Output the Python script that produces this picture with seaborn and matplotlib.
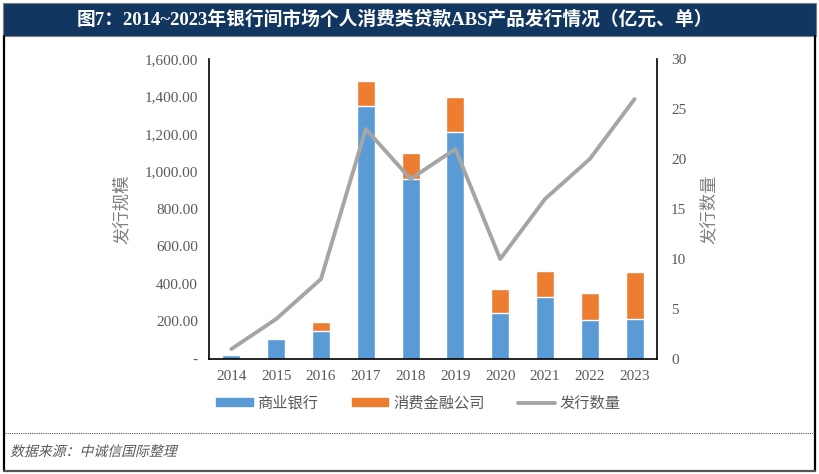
import numpy as np
import pandas as pd
import matplotlib
matplotlib.use('Agg')
import matplotlib.pyplot as plt
from matplotlib.patches import Rectangle, Patch, PathPatch
from matplotlib.lines import Line2D
from matplotlib.textpath import TextPath
from matplotlib.font_manager import FontProperties
from matplotlib.transforms import Affine2D
from matplotlib.ticker import FuncFormatter, MultipleLocator
import seaborn as sns

# data
years = ['2014', '2015', '2016', '2017', '2018', '2019', '2020', '2021', '2022', '2023']
bank_amount = [21, 107, 149, 1348, 958, 1212, 245, 331, 210, 213]
consumer_fin_amount = [0, 0, 47, 136, 139, 187, 127, 136, 140, 251]
issue_count = [1, 4, 8, 23, 18, 21, 10, 16, 20, 26]

title = '图7：2014~2023年银行间市场个人消费类贷款ABS产品发行情况（亿元、单）'
source = '数据来源：中诚信国际整理'

BLUE = '#5B9BD5'
ORANGE = '#ED7D31'
GRAY = '#A5A5A5'
TICK_C = '#595959'

sns.set_theme(style='white')
serif = ['Liberation Serif', 'Noto Sans CJK SC', 'DejaVu Sans']
cjk = ['Noto Sans CJK SC', 'DejaVu Sans']
plt.rcParams['font.family'] = serif

df = pd.DataFrame({
    'year': years,
    'bank': bank_amount,
    'total': np.array(bank_amount) + np.array(consumer_fin_amount),
    'pos': np.arange(len(years)),
    'count': issue_count,
})

fig = plt.figure(figsize=(8.2, 4.74), dpi=100)
ax = fig.add_axes([209 / 820, 1 - 359 / 474, 448 / 820, 300 / 474])

# stacked bars: total (orange) first, commercial bank part (blue) on top
sns.barplot(data=df, x='year', y='total', color=ORANGE, width=0.4, saturation=1, ax=ax)
sns.barplot(data=df, x='year', y='bank', color=BLUE, width=0.4, saturation=1, ax=ax)
ax.set_xlim(-0.5, len(years) - 0.5)
ax.set_ylim(0, 1600)
ax.yaxis.set_major_locator(MultipleLocator(200))
ax.yaxis.set_major_formatter(FuncFormatter(lambda v, p: '-' if v == 0 else f'{v:,.2f}'))
ax.set_xlabel('')
ax.set_ylabel('发行规模', family=cjk, fontsize=12.5, color='#7F7F7F', labelpad=10)
ax.tick_params(axis='both', length=0, labelsize=11, colors=TICK_C, pad=8)
for s in ['left', 'bottom']:
    ax.spines[s].set_color('black')
    ax.spines[s].set_linewidth(1.2)
ax.spines['top'].set_visible(False)
ax.spines['right'].set_visible(False)

ax2 = ax.twinx()
sns.lineplot(data=df, x='pos', y='count', color=GRAY, linewidth=2.8, ax=ax2)
ax2.set_ylim(0, 30)
ax2.set_xlim(-0.5, len(years) - 0.5)
ax2.yaxis.set_major_locator(MultipleLocator(5))
ax2.set_ylabel('发行数量', family=cjk, fontsize=12.5, color='#7F7F7F', labelpad=10)
ax2.tick_params(axis='y', length=0, labelsize=11, colors=TICK_C, pad=10)
ax2.spines['top'].set_visible(False)
ax2.spines['left'].set_visible(False)
ax2.spines['bottom'].set_visible(False)
ax2.spines['right'].set_color('black')
ax2.spines['right'].set_linewidth(1.2)

handles = [Patch(color=BLUE), Patch(color=ORANGE), Line2D([], [], color=GRAY, linewidth=2.8)]
fig.legend(handles, ['商业银行', '消费金融公司', '发行数量'], loc='center', bbox_to_anchor=(0.51, 1 - 403 / 474),
           ncol=3, frameon=False, prop={'family': cjk, 'size': 11}, labelcolor=TICK_C,
           handlelength=2.4, handleheight=0.5, columnspacing=2.2, handletextpad=0.3)

# banner and frame
fig.patches.append(Rectangle((3 / 820, 1 - 36 / 474), 813 / 820, 33 / 474, transform=fig.transFigure,
                             facecolor='#11365F', edgecolor='#7F7F7F', linewidth=0.8))
fig.text(395 / 820, 1 - 19 / 474, title, color='white', fontsize=13.5, fontweight='bold',
         ha='center', va='center', family=serif)
fig.add_artist(Line2D([4 / 820, 4 / 820], [1 - 36 / 474, 1 - 471 / 474], color='black', lw=1.6,
                      transform=fig.transFigure))
fig.add_artist(Line2D([815 / 820, 815 / 820], [1 - 36 / 474, 1 - 471 / 474], color='black', lw=1.6,
                      transform=fig.transFigure))
fig.add_artist(Line2D([4 / 820, 815 / 820], [1 - 471 / 474, 1 - 471 / 474], color='#555555', lw=1.6,
                      transform=fig.transFigure))
fig.add_artist(Line2D([5 / 820, 814 / 820], [1 - 433 / 474, 1 - 433 / 474], color='#555555', lw=0.8,
                      ls=(0, (1, 1)), transform=fig.transFigure))

# slanted source note (CJK fonts have no italic face)
tp = TextPath((0, 0), source, size=10, prop=FontProperties(family=cjk))
skew = (Affine2D().skew_deg(14, 0).scale(1 / 72)
        .translate(10 / 100, (474 - 456) / 100) + fig.dpi_scale_trans)
fig.add_artist(PathPatch(tp, transform=skew, facecolor='#595959', edgecolor='none'))

fig.savefig('out.png', dpi=100)
